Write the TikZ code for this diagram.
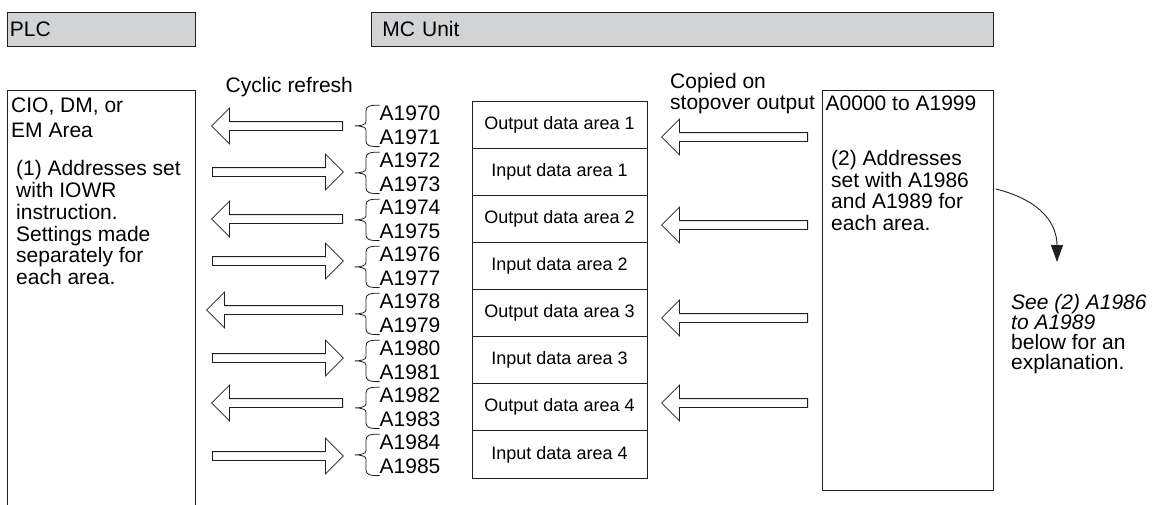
\documentclass[tikz,border=0pt]{standalone}
\usepackage{fontspec}
\setmainfont{Liberation Sans}
\usetikzlibrary{arrows.meta, positioning, shapes.arrows}
\definecolor{HeadGray}{HTML}{D1D3D4}
\definecolor{LineInk}{HTML}{231F20}

\begin{document}
\begin{tikzpicture}[x=1pt, y=-1pt,
    font=\fontsize{21}{21.7}\selectfont,
    head/.style={draw=LineInk, line width=0.9pt, fill=HeadGray, minimum height=34pt,
                 inner ysep=0pt, anchor=north west, align=left},
    panel/.style={draw=LineInk, line width=0.9pt, anchor=north west, inner sep=0pt},
    areabox/.style={draw=LineInk, line width=0.9pt, minimum width=175pt,
                    minimum height=47.125pt, inner sep=0pt, outer sep=0pt,
                    font=\fontsize{18}{20}\selectfont},
    txt/.style={inner sep=0pt, anchor=north west, align=left},
    addr/.style={inner sep=0pt, anchor=base west},
    blockarr/.style={single arrow, draw=LineInk, line width=0.8pt, fill=white,
                     inner sep=0pt, text height=4pt, text depth=4pt, minimum width=35pt,
                     single arrow head extend=13.5pt, single arrow tip angle=90,
                     anchor=tail},
    pointleft/.style={shape border rotate=180},
    pointright/.style={},
    brc/.style={draw=LineInk, line width=0.8pt},
    note/.style={-{Triangle[length=17pt, width=12pt]}, line width=0.9pt, draw=LineInk}]
  \useasboundingbox (0,0) rectangle (1152,504);

  % headers
  \node[head, text width=183pt, inner xsep=2.5pt] (plc) at (7,12) {PLC};
  \node[head, text width=600pt, inner xsep=11pt] (mcu) at (371,12) {MC Unit};

  % PLC side
  \node[panel, minimum width=188pt, minimum height=420pt] (plcmem) at (7,90) {};
  \node[txt, font=\fontsize{21}{25}\selectfont] (plcname) at (11,98) {CIO, DM, or\\EM Area};
  \node[txt] (plcnote) at (16,160.5) {(1) Addresses set\\with IOWR\\instruction.\\Settings made\\separately for\\each area.};
  \node[addr] (cyclic) at (225.5,92.5) {Cyclic refresh};

  % refresh arrows
  \foreach \tx/\ty/\len/\dir [count=\i] in {343/126/131/pointleft, 212/172/131/pointright,
      343/219/131/pointleft, 212/261/131/pointright, 343/310/136/pointleft,
      212/358/131/pointright, 343/403/131/pointleft, 212/456/131/pointright}
    \node[blockarr, \dir, minimum height=\len pt] (cyc\i) at (\tx,\ty) {};

  % allocated words
  \foreach \k in {0,...,15} {
    \pgfmathtruncatemacro{\n}{1970+\k}
    \node[addr] (a\n) at (379.5,120.5+23.5*\k) {A\n};
  }
  \foreach \k in {0,...,7} {
    \pgfmathtruncatemacro{\fst}{1970+2*\k}
    \draw[brc] ([yshift=0.5pt]a\fst.north west) .. controls +(-10,0) and +(0,-5) .. ++(-13.5,6)
      -- ++(0,10.75) .. controls +(0,3) and +(5,0) .. ++(-11,4)
      .. controls +(5,0) and +(0,-3) .. ++(11,4) -- ++(0,10.75)
      .. controls +(0,5) and +(-10,0) .. ++(13.5,6);
  }

  % data areas
  \node[areabox, anchor=north west] (out1) at (472,101) {Output data area 1};
  \node[areabox, below=0pt of out1] (in1) {Input data area 1};
  \node[areabox, below=0pt of in1] (out2) {Output data area 2};
  \node[areabox, below=0pt of out2] (in2) {Input data area 2};
  \node[areabox, below=0pt of in2] (out3) {Output data area 3};
  \node[areabox, below=0pt of out3] (in3) {Input data area 3};
  \node[areabox, below=0pt of in3] (out4) {Output data area 4};
  \node[areabox, below=0pt of out4] (in4) {Input data area 4};

  % MC side
  \node[txt, font=\fontsize{21}{21}\selectfont] (copied) at (670,73) {Copied on\\stopover output};
  \foreach \ty [count=\i] in {137,225,318,403}
    \node[blockarr, pointleft, minimum height=146pt] (cp\i) at (808,\ty) {};
  \node[panel, minimum width=171pt, minimum height=400pt] (mcmem) at (822,90) {};
  \node[addr] (mcrange) at (825.5,110) {A0000 to A1999};
  \node[txt] (mcnote) at (831,150) {(2) Addresses\\set with A1986\\and A1989 for\\each area.};

  % reference
  \coordinate (seetip) at (1057,262);
  \draw[note] ([xshift=2pt, yshift=-99pt]mcmem.north east) .. controls +(48,12) and +(0,-36) .. (seetip);
  \node[txt, font=\fontsize{21}{20}\selectfont] (seenote) at (1011,294) {\textit{See (2) A1986}\\\textit{to A1989}\\below for an\\explanation.};
\end{tikzpicture}
\end{document}
